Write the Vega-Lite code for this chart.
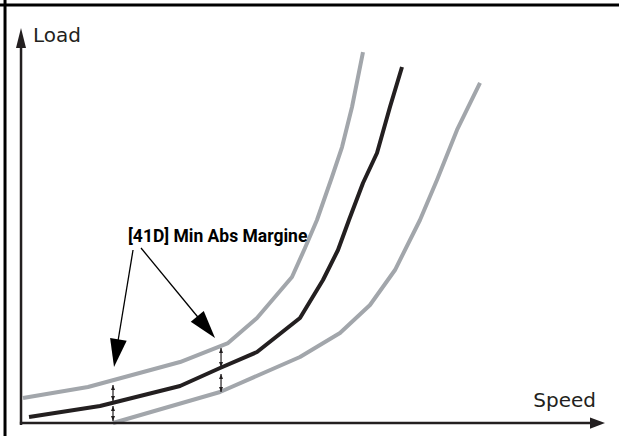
{
  "$schema": "https://vega.github.io/schema/vega-lite/v6.json",
  "width": 619,
  "height": 436,
  "autosize": {"type": "fit", "contains": "padding"},
  "padding": 0,
  "background": "white",
  "config": {"view": {"stroke": null}},
  "datasets": {
    "curves": [
      {"series": "upper", "speed": 0.34, "load": 6.33},
      {"series": "upper", "speed": 11.47, "load": 9.11},
      {"series": "upper", "speed": 27.23, "load": 15.44},
      {"series": "upper", "speed": 35.45, "load": 20.25},
      {"series": "upper", "speed": 40.41, "load": 26.58},
      {"series": "upper", "speed": 46.4, "load": 36.96},
      {"series": "upper", "speed": 48.63, "load": 44.3},
      {"series": "upper", "speed": 50.68, "load": 51.39},
      {"series": "upper", "speed": 53.25, "load": 62.28},
      {"series": "upper", "speed": 54.97, "load": 69.87},
      {"series": "upper", "speed": 56.68, "load": 80.0},
      {"series": "upper", "speed": 58.56, "load": 93.92},
      {"series": "middle", "speed": 1.37, "load": 1.52},
      {"series": "middle", "speed": 13.53, "load": 4.3},
      {"series": "middle", "speed": 27.23, "load": 9.37},
      {"series": "middle", "speed": 34.08, "load": 13.92},
      {"series": "middle", "speed": 40.41, "load": 17.97},
      {"series": "middle", "speed": 47.77, "load": 26.58},
      {"series": "middle", "speed": 51.71, "load": 36.2},
      {"series": "middle", "speed": 54.28, "load": 43.8},
      {"series": "middle", "speed": 56.16, "load": 51.39},
      {"series": "middle", "speed": 58.56, "load": 60.76},
      {"series": "middle", "speed": 60.96, "load": 68.35},
      {"series": "middle", "speed": 63.18, "load": 80.0},
      {"series": "middle", "speed": 65.24, "load": 90.13},
      {"series": "lower", "speed": 15.75, "load": 0.0},
      {"series": "lower", "speed": 34.08, "load": 7.85},
      {"series": "lower", "speed": 47.77, "load": 16.71},
      {"series": "lower", "speed": 54.62, "load": 22.78},
      {"series": "lower", "speed": 59.76, "load": 29.87},
      {"series": "lower", "speed": 64.04, "load": 38.73},
      {"series": "lower", "speed": 68.32, "load": 51.39},
      {"series": "lower", "speed": 71.23, "load": 61.52},
      {"series": "lower", "speed": 74.66, "load": 74.18},
      {"series": "lower", "speed": 78.6, "load": 86.08}
    ],
    "rules": [
      {"kind": "frame", "x": -2.74, "y": -3.29, "x2": -2.74, "y2": 107.09},
      {"kind": "frame", "x": -3.6, "y": 105.82, "x2": 102.4, "y2": 105.82},
      {"kind": "axis", "x": 0, "y": -0.5, "x2": 0, "y2": 96},
      {"kind": "axis", "x": -0.2, "y": 0, "x2": 97.6, "y2": 0},
      {"kind": "leader", "x": 19.18, "y": 43.8, "x2": 16.27, "y2": 17.72},
      {"kind": "leader", "x": 20.55, "y": 44.3, "x2": 31.68, "y2": 24.3},
      {"kind": "margin", "x": 15.75, "y": 9.62, "x2": 15.75, "y2": 5.57},
      {"kind": "margin", "x": 15.75, "y": 4.3, "x2": 15.75, "y2": 0.51},
      {"kind": "margin", "x": 34.25, "y": 18.99, "x2": 34.25, "y2": 14.18},
      {"kind": "margin", "x": 34.25, "y": 12.41, "x2": 34.25, "y2": 7.85}
    ],
    "heads": [
      {"kind": "axisY", "x": 0, "y": 97.47, "angle": 0},
      {"kind": "axisX", "x": 98.72, "y": 0, "angle": 90},
      {"kind": "big", "x": 16.3, "y": 17.67, "angle": 189},
      {"kind": "big", "x": 31.7, "y": 24.25, "angle": 140.6},
      {"kind": "small", "x": 15.75, "y": 8.99, "angle": 0},
      {"kind": "small", "x": 15.75, "y": 6.2, "angle": 180},
      {"kind": "small", "x": 15.75, "y": 3.67, "angle": 0},
      {"kind": "small", "x": 15.75, "y": 1.14, "angle": 180},
      {"kind": "small", "x": 34.25, "y": 18.35, "angle": 0},
      {"kind": "small", "x": 34.25, "y": 14.81, "angle": 180},
      {"kind": "small", "x": 34.25, "y": 11.77, "angle": 0},
      {"kind": "small", "x": 34.25, "y": 8.48, "angle": 180}
    ],
    "labels": [
      {"kind": "axisY", "text": "Load", "x": 2.05, "y": 96.46},
      {"kind": "axisX", "text": "Speed", "x": 98.46, "y": 4.05},
      {"kind": "note", "text": "[41D] Min Abs Margine", "x": 18.32, "y": 45.82}
    ]
  },
  "encoding": {
    "x": {"type": "quantitative", "scale": {"domain": [-3.6, 102.4], "nice": false, "zero": false}, "axis": null},
    "y": {"type": "quantitative", "scale": {"domain": [-3.29, 107.09], "nice": false, "zero": false}, "axis": null}
  },
  "layer": [
    {
      "data": {"name": "curves"},
      "mark": {"type": "line", "strokeWidth": 4, "strokeCap": "butt", "strokeJoin": "round", "clip": true},
      "encoding": {
        "x": {"field": "speed", "type": "quantitative"},
        "y": {"field": "load", "type": "quantitative"},
        "detail": {"field": "series"},
        "order": {"field": "speed", "type": "quantitative"},
        "color": {"field": "series", "type": "nominal", "legend": null,
          "scale": {"domain": ["upper", "middle", "lower"], "range": ["#a2a6ab", "#231f20", "#a2a6ab"]}}
      }
    },
    {
      "data": {"name": "rules"},
      "transform": [{"filter": "datum.kind === 'frame'"}],
      "mark": {"type": "rule", "color": "#000000", "strokeWidth": 3, "clip": true},
      "encoding": {
        "x": {"field": "x", "type": "quantitative"}, "y": {"field": "y", "type": "quantitative"},
        "x2": {"field": "x2"}, "y2": {"field": "y2"}
      }
    },
    {
      "data": {"name": "rules"},
      "transform": [{"filter": "datum.kind === 'axis'"}],
      "mark": {"type": "rule", "color": "#231f20", "strokeWidth": 2.5},
      "encoding": {
        "x": {"field": "x", "type": "quantitative"}, "y": {"field": "y", "type": "quantitative"},
        "x2": {"field": "x2"}, "y2": {"field": "y2"}
      }
    },
    {
      "data": {"name": "rules"},
      "transform": [{"filter": "datum.kind === 'leader'"}],
      "mark": {"type": "rule", "color": "#000000", "strokeWidth": 1.3},
      "encoding": {
        "x": {"field": "x", "type": "quantitative"}, "y": {"field": "y", "type": "quantitative"},
        "x2": {"field": "x2"}, "y2": {"field": "y2"}
      }
    },
    {
      "data": {"name": "rules"},
      "transform": [{"filter": "datum.kind === 'margin'"}],
      "mark": {"type": "rule", "color": "#231f20", "strokeWidth": 1.2},
      "encoding": {
        "x": {"field": "x", "type": "quantitative"}, "y": {"field": "y", "type": "quantitative"},
        "x2": {"field": "x2"}, "y2": {"field": "y2"}
      }
    },
    {
      "data": {"name": "heads"},
      "transform": [{"filter": "datum.kind === 'axisY'"}],
      "mark": {"type": "point", "shape": "M0,-1L0.5,1L-0.5,1Z", "size": 400, "filled": true, "color": "#231f20", "opacity": 1, "strokeWidth": 0},
      "encoding": {
        "x": {"field": "x", "type": "quantitative"}, "y": {"field": "y", "type": "quantitative"},
        "angle": {"field": "angle", "type": "quantitative", "scale": null}
      }
    },
    {
      "data": {"name": "heads"},
      "transform": [{"filter": "datum.kind === 'axisX'"}],
      "mark": {"type": "point", "shape": "M0,-1L0.75,1L-0.75,1Z", "size": 225, "filled": true, "color": "#231f20", "opacity": 1, "strokeWidth": 0},
      "encoding": {
        "x": {"field": "x", "type": "quantitative"}, "y": {"field": "y", "type": "quantitative"},
        "angle": {"field": "angle", "type": "quantitative", "scale": null}
      }
    },
    {
      "data": {"name": "heads"},
      "transform": [{"filter": "datum.kind === 'big'"}],
      "mark": {"type": "point", "shape": "M0,-1L0.6,1L-0.6,1Z", "size": 784, "filled": true, "color": "#000000", "opacity": 1, "strokeWidth": 0},
      "encoding": {
        "x": {"field": "x", "type": "quantitative"}, "y": {"field": "y", "type": "quantitative"},
        "angle": {"field": "angle", "type": "quantitative", "scale": null}
      }
    },
    {
      "data": {"name": "heads"},
      "transform": [{"filter": "datum.kind === 'small'"}],
      "mark": {"type": "point", "shape": "M0,-1L0.8,1L-0.8,1Z", "size": 25, "filled": true, "color": "#231f20", "opacity": 1, "strokeWidth": 0},
      "encoding": {
        "x": {"field": "x", "type": "quantitative"}, "y": {"field": "y", "type": "quantitative"},
        "angle": {"field": "angle", "type": "quantitative", "scale": null}
      }
    },
    {
      "data": {"name": "labels"},
      "transform": [{"filter": "datum.kind === 'axisY'"}],
      "mark": {"type": "text", "align": "left", "baseline": "alphabetic", "font": "DejaVu Sans", "fontSize": 20, "color": "#231f20"},
      "encoding": {
        "x": {"field": "x", "type": "quantitative"}, "y": {"field": "y", "type": "quantitative"},
        "text": {"field": "text"}
      }
    },
    {
      "data": {"name": "labels"},
      "transform": [{"filter": "datum.kind === 'axisX'"}],
      "mark": {"type": "text", "align": "right", "baseline": "alphabetic", "font": "DejaVu Sans", "fontSize": 20, "color": "#231f20"},
      "encoding": {
        "x": {"field": "x", "type": "quantitative"}, "y": {"field": "y", "type": "quantitative"},
        "text": {"field": "text"}
      }
    },
    {
      "data": {"name": "labels"},
      "transform": [{"filter": "datum.kind === 'note'"}],
      "mark": {"type": "text", "align": "left", "baseline": "alphabetic", "font": "Roboto", "fontSize": 17.5, "fontWeight": "bold", "color": "#000000"},
      "encoding": {
        "x": {"field": "x", "type": "quantitative"}, "y": {"field": "y", "type": "quantitative"},
        "text": {"field": "text"}
      }
    }
  ]
}
